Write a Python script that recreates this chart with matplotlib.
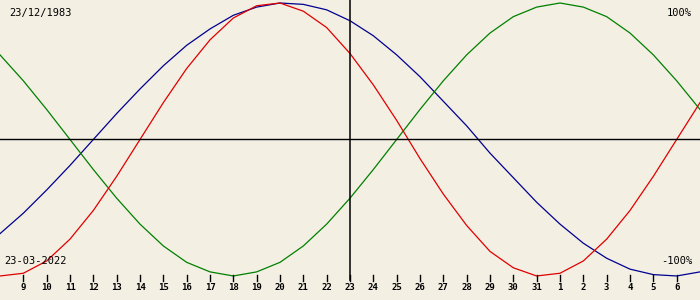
import matplotlib
matplotlib.use('Agg')
import matplotlib.pyplot as plt

# biorhythm values (%) per day, 8 March .. 7 April 2022
day_labels = ['9','10','11','12','13','14','15','16','17','18','19','20','21','22','23',
              '24','25','26','27','28','29','30','31','1','2','3','4','5','6']
physical = [-100,-98,-89,-73,-52,-27,0,27,52,73,89,98,100,94,82,63,40,14,-14,-40,
            -63,-82,-94,-100,-98,-89,-73,-52,-27,0,27]
emotional = [62,43,22,0,-22,-43,-62,-78,-90,-97,-100,-97,-90,-78,-62,-43,-22,0,22,43,
             62,78,90,97,100,97,90,78,62,43,22]
intellectual = [-69,-54,-37,-19,0,19,37,54,69,81,91,97,100,99,95,87,76,62,46,28,
                10,-10,-28,-46,-62,-76,-87,-95,-99,-100,-97]
birth = '23/12/1983'
today = '23-03-2022'

bg = '#f3efe3'
fig = plt.figure(figsize=(7, 3), dpi=100, facecolor=bg)
ax = fig.add_axes([0, 0, 1, 1], facecolor=bg)
ax.set_xlim(0, 30)
ax.set_ylim(-117.6, 102.2)
ax.axis('off')

days = list(range(len(physical)))
lw = 0.9
ax.plot(days, intellectual, color='#000090', lw=lw)
ax.plot(days, emotional, color='#008000', lw=lw)
ax.plot(days, physical, color='#e00000', lw=lw)

ax.axhline(0, color='black', lw=1)
ax.plot([15, 15], [102.2, -103], color='black', lw=1.1)

mono = 'DejaVu Sans Mono'
for i, lab in enumerate(day_labels):
    k = i + 1
    ax.plot([k, k], [-99.5, -103.5], color='black', lw=1)
    ax.text(k, -108.5, lab, ha='center', va='center', fontsize=6.5,
            family=mono, fontweight='bold')

ax.text(9 / 700 * 30, 93, birth, ha='left', va='center', fontsize=7.5, family=mono)
ax.text(30 - 8 / 700 * 30, 93, '100%', ha='right', va='center', fontsize=7.5, family=mono)
ax.text(4 / 700 * 30, -89, today, ha='left', va='center', fontsize=7.5, family=mono)
ax.text(30 - 8 / 700 * 30, -89, '-100%', ha='right', va='center', fontsize=7.5, family=mono)

fig.savefig('out.png', dpi=100, facecolor=bg)
